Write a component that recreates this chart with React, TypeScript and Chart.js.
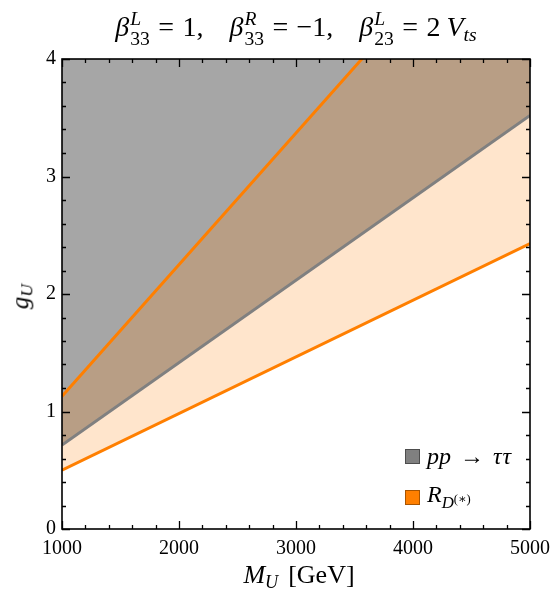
import React, { useEffect, useRef } from "react";
import { Chart, registerables } from "chart.js";

Chart.register(...registerables);

// ---- data ----
const massGeV = [1000, 5000];
const ppTauTauBound = [0.715, 3.52];
const rdLowerBound = [0.5, 2.43];
const rdUpperBound = [1.13, 5.61];
const xTickValues = [1000, 2000, 3000, 4000, 5000];
const yTickValues = [0, 1, 2, 3, 4];

const ORANGE = "rgb(255,127,0)";
const GRAY = "rgb(128,128,128)";
const FONT = "'Liberation Serif', 'DejaVu Serif', serif";

const toPoints = (ys: number[]) => massGeV.map((x, i) => ({ x, y: ys[i] }));

const frameTicks = {
  id: "frameTicks",
  afterDatasetsDraw(chart: any) {
    const { ctx, chartArea, scales } = chart;
    const { left, right, top, bottom } = chartArea;
    const xs = scales.x;
    const ys = scales.y;
    ctx.save();
    ctx.strokeStyle = "#000";
    ctx.lineWidth = 1.3;
    ctx.beginPath();
    for (let v = 1000; v <= 5000 + 1e-6; v += 200) {
      const major = Math.abs(v / 1000 - Math.round(v / 1000)) < 1e-6;
      const len = major ? 8 : 4;
      const px = Math.round(xs.getPixelForValue(v)) + 0.5;
      ctx.moveTo(px, bottom);
      ctx.lineTo(px, bottom - len);
      ctx.moveTo(px, top);
      ctx.lineTo(px, top + len);
    }
    for (let i = 0; i <= 20; i++) {
      const v = i * 0.2;
      const major = i % 5 === 0;
      const len = major ? 8 : 4;
      const py = Math.round(ys.getPixelForValue(v)) + 0.5;
      ctx.moveTo(left, py);
      ctx.lineTo(left + len, py);
      ctx.moveTo(right, py);
      ctx.lineTo(right - len, py);
    }
    ctx.stroke();
    ctx.lineWidth = 1.6;
    ctx.strokeRect(left, top, right - left, bottom - top);
    ctx.restore();
  },
};

function SupSub({ sup, sub }: { sup: string; sub: string }) {
  return (
    <span
      style={{
        display: "inline-block",
        verticalAlign: "-0.45em",
        lineHeight: "1.0em",
        fontSize: "0.7em",
        textAlign: "left",
        fontStyle: "normal",
        marginLeft: 1,
      }}
    >
      <i>{sup}</i>
      <br />
      {sub}
    </span>
  );
}

const Eq = () => <span style={{ margin: "0 0.3em" }}>=</span>;

export default function App() {
  const ref = useRef<HTMLCanvasElement>(null);

  useEffect(() => {
    if (!ref.current) return;
    const chart = new Chart(ref.current, {
      type: "line",
      data: {
        datasets: [
          {
            label: "R_D upper",
            data: toPoints(rdUpperBound),
            borderColor: ORANGE,
            borderWidth: 3,
            backgroundColor: "rgba(255,127,0,0.2)",
            fill: "+1",
            pointRadius: 0,
            clip: 0,
          },
          {
            label: "R_D lower",
            data: toPoints(rdLowerBound),
            borderColor: ORANGE,
            borderWidth: 3,
            fill: false,
            pointRadius: 0,
            clip: 0,
          },
          {
            label: "pp -> tautau",
            data: toPoints(ppTauTauBound),
            borderColor: GRAY,
            borderWidth: 3,
            backgroundColor: "rgba(128,128,128,0.7)",
            fill: "end",
            pointRadius: 0,
            clip: 0,
          },
        ],
      },
      options: {
        animation: false,
        responsive: false,
        devicePixelRatio: 1,
        layout: { padding: { left: 0, top: 59, right: 23, bottom: 0 } },
        plugins: {
          legend: { display: false },
          tooltip: { enabled: false },
          filler: { drawTime: "beforeDatasetsDraw" },
        },
        scales: {
          x: {
            type: "linear",
            min: 1000,
            max: 5000,
            afterFit: (s: any) => {
              s.height = 72;
              s.paddingLeft = 0;
              s.paddingRight = 0;
            },
            afterBuildTicks: (s: any) => {
              s.ticks = xTickValues.map((v) => ({ value: v }));
            },
            grid: { display: false, drawTicks: false },
            border: { display: false },
            ticks: {
              color: "#000",
              padding: 8,
              maxRotation: 0,
              font: { family: FONT, size: 20 },
              callback: (v: any) => String(v),
            },
          },
          y: {
            type: "linear",
            min: 0,
            max: 4,
            afterFit: (s: any) => {
              s.width = 62;
              s.paddingTop = 0;
              s.paddingBottom = 0;
            },
            afterBuildTicks: (s: any) => {
              s.ticks = yTickValues.map((v) => ({ value: v }));
            },
            grid: { display: false, drawTicks: false },
            border: { display: false },
            ticks: {
              color: "#000",
              padding: 6,
              font: { family: FONT, size: 20 },
              callback: (v: any) => String(v),
            },
          },
        },
      },
      plugins: [frameTicks],
    } as any);
    return () => chart.destroy();
  }, []);

  return (
    <div
      style={{
        position: "absolute",
        left: 0,
        top: 0,
        width: 553,
        height: 601,
        fontFamily: FONT,
        color: "#000",
      }}
    >
      <canvas ref={ref} width={553} height={601} style={{ position: "absolute", left: 0, top: 0 }} />
      {/* title */}
      <div
        style={{
          position: "absolute",
          left: 62,
          width: 468,
          top: 9,
          textAlign: "center",
          fontSize: 28,
          whiteSpace: "nowrap",
        }}
      >
        <i>β</i>
        <SupSub sup="L" sub="33" />
        <Eq />1,
        <span style={{ display: "inline-block", width: 26 }} />
        <i>β</i>
        <SupSub sup="R" sub="33" />
        <Eq />−1,
        <span style={{ display: "inline-block", width: 26 }} />
        <i>β</i>
        <SupSub sup="L" sub="23" />
        <Eq />2<span style={{ display: "inline-block", width: 6 }} />
        <i>V</i>
        <sub style={{ fontSize: "0.7em", fontStyle: "italic", verticalAlign: "-0.25em" }}>ts</sub>
      </div>
      {/* y label */}
      <div
        style={{
          position: "absolute",
          left: 2,
          top: 281,
          width: 40,
          textAlign: "center",
          fontSize: 25,
          transform: "rotate(-90deg)",
          whiteSpace: "nowrap",
        }}
      >
        <i>g</i>
        <sub style={{ fontSize: "0.7em", fontStyle: "italic", verticalAlign: "-0.25em" }}>U</sub>
      </div>
      {/* x label */}
      <div
        style={{
          position: "absolute",
          left: 62,
          width: 474,
          top: 560,
          textAlign: "center",
          fontSize: 26,
          whiteSpace: "nowrap",
        }}
      >
        <i>M</i>
        <sub style={{ fontSize: "0.7em", fontStyle: "italic", verticalAlign: "-0.25em" }}>U</sub>
        <span style={{ display: "inline-block", width: 10 }} />
        [GeV]
      </div>
      {/* legend */}
      <div style={{ position: "absolute", left: 405, top: 441, fontSize: 24, whiteSpace: "nowrap" }}>
        <div style={{ display: "flex", alignItems: "center", height: 30 }}>
          <span
            style={{
              display: "inline-block",
              width: 13,
              height: 13,
              background: GRAY,
              border: "1px solid #4d4d4d",
              marginRight: 7,
            }}
          />
          <i>pp</i>
          <span style={{ margin: "0 9px" }}>→</span>
          <i style={{ letterSpacing: 1 }}>ττ</i>
        </div>
        <div style={{ display: "flex", alignItems: "center", height: 30, marginTop: 11 }}>
          <span
            style={{
              display: "inline-block",
              width: 13,
              height: 13,
              background: ORANGE,
              border: "1px solid #a85400",
              marginRight: 7,
            }}
          />
          <span>
            <i>R</i>
            <sub style={{ fontSize: "0.7em", verticalAlign: "-0.3em" }}>
              <i>D</i>
              <sup style={{ fontSize: "0.75em", verticalAlign: "0.4em" }}>(∗)</sup>
            </sub>
          </span>
        </div>
      </div>
    </div>
  );
}
